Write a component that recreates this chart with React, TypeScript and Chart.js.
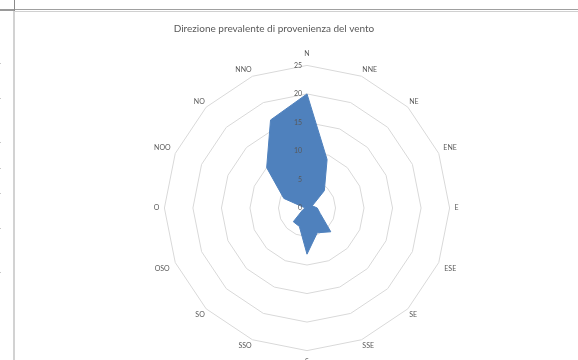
import React, { useEffect, useRef } from "react";
import { Chart, registerables } from "chart.js";

Chart.register(...registerables);

const directions = ["N", "NNE", "NE", "ENE", "E", "ESE", "SE", "SSE", "S", "SSO", "SO", "OSO", "O", "NOO", "NO", "NNO"];
const frequencies = [20, 9.2, 4.3, 1.0, 1.8, 2.5, 5.9, 4.7, 8.1, 3.5, 3.4, 0.8, 0.3, 4.4, 10.0, 16.7];
const tickValues = [0, 5, 10, 15, 20, 25];
const chartTitle = "Direzione prevalente di provenienza del vento";

const FONT = "Lato, 'Open Sans', sans-serif";
const TEXT_COLOR = "#595959";

const CANVAS_LEFT = 15;
const CANVAS_TOP = 12;

export default function App() {
  const ref = useRef<HTMLCanvasElement | null>(null);

  useEffect(() => {
    if (!ref.current) return;

    const overlayPlugin = {
      id: "overlayText",
      afterDatasetsDraw(chart: any) {
        const s = chart.scales.r;
        const ctx = chart.ctx;
        ctx.save();
        ctx.font = `7px ${FONT}`;
        ctx.fillStyle = TEXT_COLOR;
        ctx.textAlign = "right";
        ctx.textBaseline = "middle";
        for (const v of tickValues) {
          const y = s.yCenter - s.getDistanceFromCenterForValue(v);
          ctx.fillText(String(v), s.xCenter - 5, y);
        }
        ctx.restore();
      },
      afterDraw(chart: any) {
        const ctx = chart.ctx;
        ctx.save();
        ctx.font = `10px ${FONT}`;
        ctx.fillStyle = TEXT_COLOR;
        ctx.textAlign = "center";
        ctx.textBaseline = "middle";
        ctx.fillText(chartTitle, 274 - CANVAS_LEFT, 29 - CANVAS_TOP);
        ctx.restore();
      },
    };

    const chart = new Chart(ref.current, {
      type: "radar",
      data: {
        labels: directions,
        datasets: [
          {
            label: "Frequenza",
            data: frequencies,
            backgroundColor: "#4f81bd",
            borderColor: "#4f81bd",
            borderWidth: 1,
            pointRadius: 0,
            pointHoverRadius: 0,
            fill: true,
            tension: 0,
          },
        ],
      },
      options: {
        responsive: false,
        animation: false,
        devicePixelRatio: 1,
        layout: { padding: { top: 38, left: 0, right: 0, bottom: 0 } },
        plugins: {
          legend: { display: false },
          title: { display: false },
          tooltip: { enabled: false },
        },
        scales: {
          r: {
            min: 0,
            max: 25,
            beginAtZero: true,
            ticks: { stepSize: 5, display: false },
            grid: { color: "#d9d9d9", lineWidth: 1, circular: false },
            angleLines: { display: false },
            pointLabels: {
              font: { family: FONT, size: 7 },
              color: TEXT_COLOR,
              padding: (ctx: any) => {
                const i = ctx.index;
                if (i === 0 || i === 8) return 7;
                if (i === 4 || i === 12) return 5;
                if (i === 3 || i === 13) return 5;
                if (i === 5 || i === 11) return 6;
                return 2;
              },
            },
          },
        },
      },
      plugins: [overlayPlugin],
    });

    return () => chart.destroy();
  }, []);

  const leftMarks = [63, 98, 142, 168, 193, 228, 272];

  return (
    <div
      style={{
        position: "fixed",
        left: 0,
        top: 0,
        width: 578,
        height: 360,
        overflow: "hidden",
        background: "#ffffff",
      }}
    >
      <canvas
        ref={ref}
        width={584}
        height={355}
        style={{ position: "absolute", left: CANVAS_LEFT, top: CANVAS_TOP }}
      />
      <div style={{ position: "absolute", left: 0, top: 9, width: 14, height: 2, background: "#9a9a9a" }} />
      <div style={{ position: "absolute", left: 14, top: 9, width: 564, height: 1, background: "#a0a0a0" }} />
      <div style={{ position: "absolute", left: 14, top: 11, width: 564, height: 1, background: "#d0d0d0" }} />
      <div style={{ position: "absolute", left: 14, top: 0, width: 1, height: 11, background: "#8a8a8a" }} />
      <div style={{ position: "absolute", left: 13, top: 11, width: 2, height: 349, background: "#d2d2d2" }} />
      {leftMarks.map((y) => (
        <div key={y} style={{ position: "absolute", left: 0, top: y, width: 1, height: 1, background: "#c8c8c8" }} />
      ))}
    </div>
  );
}
